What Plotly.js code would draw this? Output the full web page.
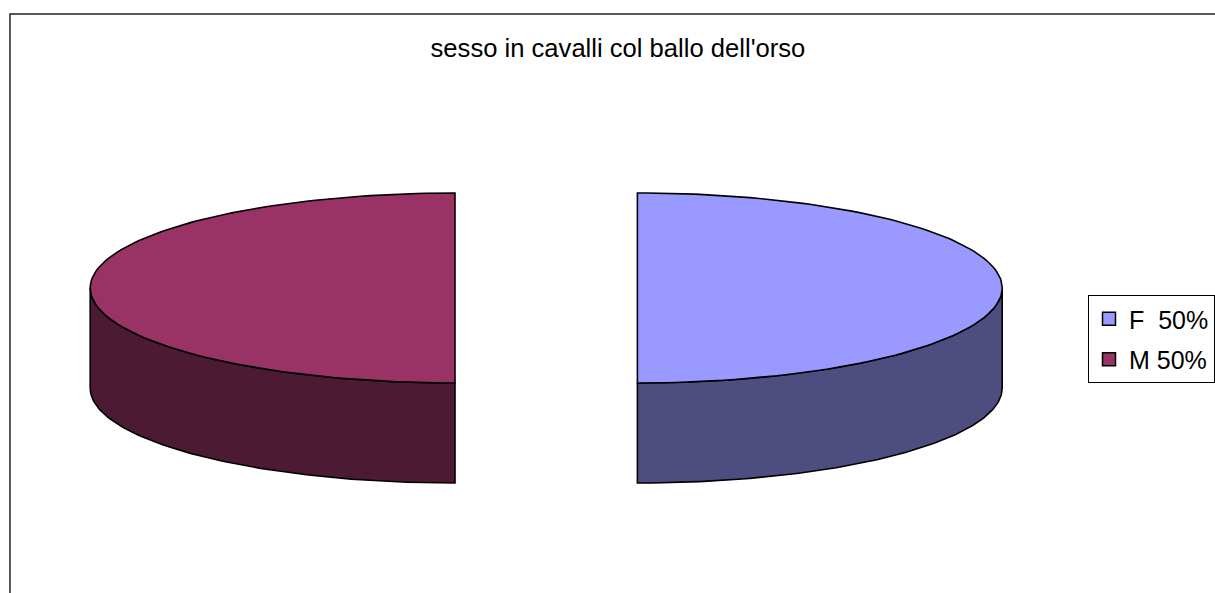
<!DOCTYPE html>
<html>
<head>
<meta charset="utf-8">
<script src="https://cdn.plot.ly/plotly-3.0.1.min.js"></script>
<style>html,body{margin:0;padding:0;background:#fff;}#chart{width:1215px;height:593px;}</style>
</head>
<body>
<div id="chart"></div>
<script>
// ---- data ----
const categories = ['F', 'M'];
const values = [50, 50];
const legendLabels = ['F\u00a0\u00a050%', 'M 50%'];
const topColors = ['#9999FF', '#993366'];
const sideColors = ['#4D4D80', '#4C1A33'];
const chartTitle = "sesso in cavalli col ballo dell'orso";

// ---- 3D pie geometry (layout constants) ----
const W = 1215, H = 593;
const CX = 548, CY = 288, RX = 366, RY = 95, DEPTH = 100, EXPLODE = 0.25;
const STEPS = 120;
const deg = Math.PI / 180;

const total = values.reduce((a, b) => a + b, 0);
const sideTraces = [], topTraces = [], legendTraces = [];
let cum = 0;
values.forEach((v, i) => {
  const a0 = 90 - cum / total * 360;
  const a1 = a0 - v / total * 360;
  cum += v;
  const mid = (a0 + a1) / 2;
  const cx = CX + EXPLODE * RX * Math.cos(mid * deg);
  const cy = CY - EXPLODE * RY * Math.sin(mid * deg);
  const px = t => cx + RX * Math.cos(t * deg);
  const py = (t, d) => cy - RY * Math.sin(t * deg) + (d || 0);

  // top face
  const tx = [cx], ty = [cy];
  for (let s = 0; s <= STEPS; s++) {
    const t = a0 + (a1 - a0) * s / STEPS;
    tx.push(px(t)); ty.push(py(t));
  }
  tx.push(cx); ty.push(cy);
  topTraces.push({
    type: 'scatter', mode: 'lines', x: tx, y: ty, fill: 'toself',
    fillcolor: topColors[i], line: {color: '#000', width: 1.6},
    hoverinfo: 'skip', showlegend: false
  });

  // visible (front) side wall: angles where the rim faces the viewer
  const lo = Math.min(a0, a1), hi = Math.max(a0, a1);
  for (let k = -2; k <= 1; k++) {
    const f0 = k * 360 - 180, f1 = k * 360;
    const s0 = Math.max(lo, f0), s1 = Math.min(hi, f1);
    if (s1 - s0 > 0.01) {
      const sx = [], sy = [];
      for (let s = 0; s <= STEPS; s++) {
        const t = s0 + (s1 - s0) * s / STEPS;
        sx.push(px(t)); sy.push(py(t));
      }
      for (let s = STEPS; s >= 0; s--) {
        const t = s0 + (s1 - s0) * s / STEPS;
        sx.push(px(t)); sy.push(py(t, DEPTH));
      }
      sx.push(sx[0]); sy.push(sy[0]);
      sideTraces.push({
        type: 'scatter', mode: 'lines', x: sx, y: sy, fill: 'toself',
        fillcolor: sideColors[i], line: {color: '#000', width: 1.6},
        hoverinfo: 'skip', showlegend: false
      });
    }
  }

  legendTraces.push({
    type: 'scatter', mode: 'markers', x: [null], y: [null],
    name: legendLabels[i], legendgroup: categories[i],
    marker: {symbol: 'square', size: 13, color: topColors[i], line: {color: '#000', width: 1.5}},
    showlegend: true, hoverinfo: 'skip'
  });
});

const layout = {
  width: W, height: H,
  margin: {l: 0, r: 0, t: 0, b: 0},
  paper_bgcolor: '#fff', plot_bgcolor: '#fff',
  font: {family: 'Liberation Sans, Arial, sans-serif', color: '#000'},
  title: {
    text: chartTitle, font: {size: 25.6, color: '#000', family: 'Liberation Sans, Arial, sans-serif'},
    x: 620 / W, y: 1 - 48 / H, xanchor: 'center', yanchor: 'middle', xref: 'paper', yref: 'paper'
  },
  xaxis: {range: [0, W], visible: false, fixedrange: true},
  yaxis: {range: [H, 0], visible: false, fixedrange: true},
  showlegend: true,
  legend: {
    x: 1092 / W, y: 1 - 295 / H, xanchor: 'left', yanchor: 'top',
    bordercolor: '#000', borderwidth: 1, bgcolor: '#fff',
    font: {size: 25, color: '#000', family: 'Liberation Sans, Arial, sans-serif'},
    traceorder: 'grouped', tracegroupgap: 5, itemsizing: 'trace'
  },
  shapes: [{
    type: 'rect', xref: 'paper', yref: 'paper',
    x0: 10 / W, x1: 1.05, y0: -0.05, y1: 1 - 14 / H,
    line: {color: '#222', width: 1.5}, fillcolor: 'rgba(0,0,0,0)', layer: 'below'
  }]
};

Plotly.newPlot('chart', sideTraces.concat(topTraces, legendTraces), layout, {displayModeBar: false, staticPlot: true});
</script>
</body>
</html>
